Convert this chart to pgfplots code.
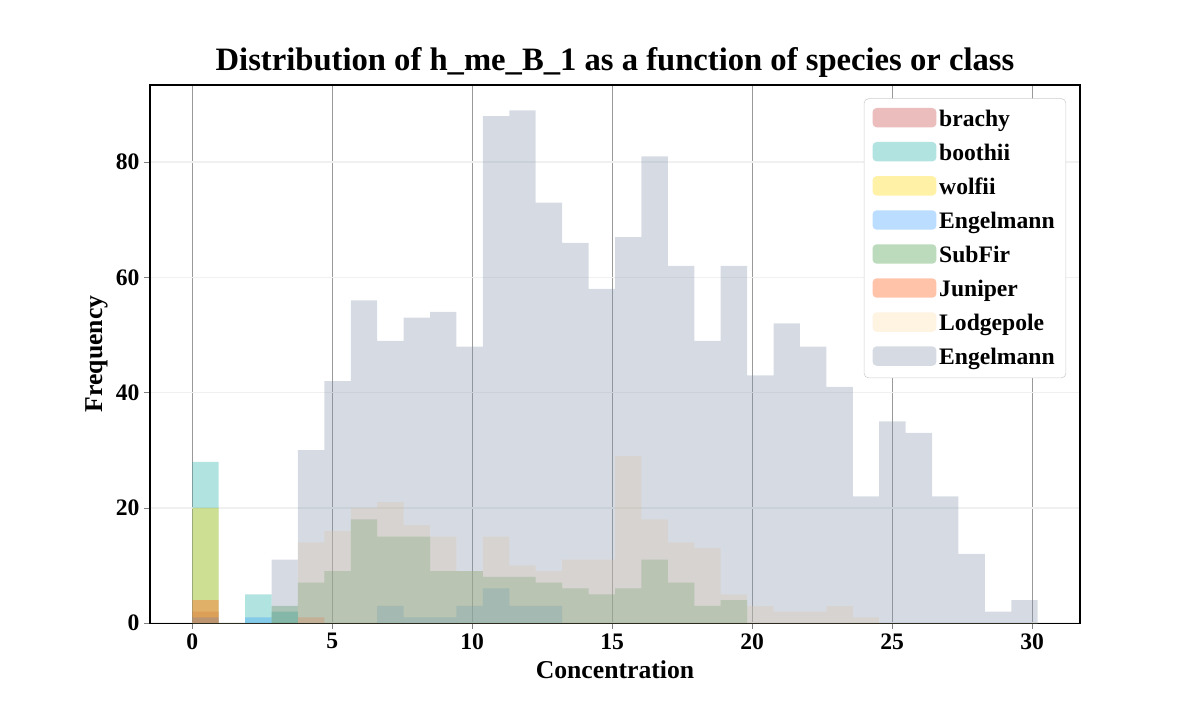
\documentclass[border=0pt]{standalone}
\usepackage{pgfplots}
\usepackage{pgfplotstable}
\pgfplotsset{compat=1.18}
\usepackage{fontspec}
\setmainfont{Liberation Serif}
\pgfplotstableread{
x a b c d e f g h
0 2 28 20 1 0 4 0 0
0.94375 0 0 0 0 0 0 0 0
1.8875 0 5 0 1 0 0 0 0
2.83125 0 2 0 0 3 0 0 11
3.775 0 0 0 0 7 1 14 30
4.71875 0 0 0 0 9 0 16 42
5.6625 0 0 0 0 18 0 20 56
6.60625 0 0 0 3 15 0 21 49
7.55 0 0 0 1 15 0 17 53
8.49375 0 0 0 1 9 0 15 54
9.4375 0 0 0 3 9 0 9 48
10.38125 0 0 0 6 8 0 15 88
11.325 0 0 0 3 8 0 10 89
12.26875 0 0 0 3 7 0 9 73
13.2125 0 0 0 0 6 0 11 66
14.15625 0 0 0 0 5 0 11 58
15.1 0 0 0 0 6 0 29 67
16.04375 0 0 0 0 11 0 18 81
16.9875 0 0 0 0 7 0 14 62
17.93125 0 0 0 0 3 0 13 49
18.875 0 0 0 0 4 0 5 62
19.81875 0 0 0 0 0 0 3 43
20.7625 0 0 0 0 0 0 2 52
21.70625 0 0 0 0 0 0 2 48
22.65 0 0 0 0 0 0 3 41
23.59375 0 0 0 0 0 0 1 22
24.5375 0 0 0 0 0 0 0 35
25.48125 0 0 0 0 0 0 0 33
26.425 0 0 0 0 0 0 0 22
27.36875 0 0 0 0 0 0 0 12
28.3125 0 0 0 0 0 0 0 2
29.25625 0 0 0 0 0 0 0 4
30.2 0 0 0 0 0 0 0 4
}\data
\definecolor{cA}{HTML}{CD5C5C}
\definecolor{cB}{HTML}{20B2AA}
\definecolor{cC}{HTML}{FFD700}
\definecolor{cD}{HTML}{1E90FF}
\definecolor{cE}{HTML}{228B22}
\definecolor{cF}{HTML}{FF6A2A}
\definecolor{cG}{HTML}{FFDEAD}
\definecolor{cH}{HTML}{8090A8}
\begin{document}
\begin{tikzpicture}[x=1pt,y=1pt]
\path (0,0) rectangle (864,504);
\begin{axis}[at={(108pt,55.4pt)},anchor=south west,
 scale only axis, width=669.6pt, height=387.4pt,
 xmin=-1.51, xmax=31.71, ymin=0, ymax=93.4,
 xtick={0,5,...,30}, ytick={0,20,...,80},
 tick align=outside, xtick pos=bottom, ytick pos=left,
 major tick length=4pt,
 grid=major,
 x grid style={gray!80, line width=0.5pt},
 y grid style={gray!12, line width=1pt},
 ticklabel style={font=\fontsize{17}{17}\selectfont\bfseries},
 /pgf/number format/assume math mode=true,
 xlabel={Concentration}, ylabel={Frequency},
 label style={font=\fontsize{18.5}{18.5}\selectfont\bfseries},
 xlabel style={yshift=-1pt}, ylabel style={yshift=-1pt},
 title={Distribution of h\_me\_B\_1 as a function of species or class},
 title style={font=\fontsize{23.5}{23.5}\selectfont\bfseries, yshift=-4pt},
 legend style={at={(0.985,0.975)},anchor=north east,
   font=\fontsize{17}{17}\selectfont\bfseries, rounded corners=3pt,
   draw=gray!40, row sep=7.2pt, inner sep=6pt},
 legend cell align=left,
 legend image code/.code={\fill[#1] (0pt,-6pt) rectangle (46pt,8pt);},
 every legend entry/.append style={xshift=12pt},
 axis line style={black, line width=0.8pt},
]
\addplot[ybar interval, draw=none, fill=cA, fill opacity=0.4] table[x=x,y=a]{\data};
\addlegendentry{brachy}
\addplot[ybar interval, draw=none, fill=cB, fill opacity=0.35] table[x=x,y=b]{\data};
\addlegendentry{boothii}
\addplot[ybar interval, draw=none, fill=cC, fill opacity=0.35] table[x=x,y=c]{\data};
\addlegendentry{wolfii}
\addplot[ybar interval, draw=none, fill=cD, fill opacity=0.3] table[x=x,y=d]{\data};
\addlegendentry{Engelmann}
\addplot[ybar interval, draw=none, fill=cE, fill opacity=0.3] table[x=x,y=e]{\data};
\addlegendentry{SubFir}
\addplot[ybar interval, draw=none, fill=cF, fill opacity=0.4] table[x=x,y=f]{\data};
\addlegendentry{Juniper}
\addplot[ybar interval, draw=none, fill=cG, fill opacity=0.35] table[x=x,y=g]{\data};
\addlegendentry{Lodgepole}
\addplot[ybar interval, draw=none, fill=cH, fill opacity=0.32] table[x=x,y=h]{\data};
\addlegendentry{Engelmann}
\end{axis}
\end{tikzpicture}
\end{document}
